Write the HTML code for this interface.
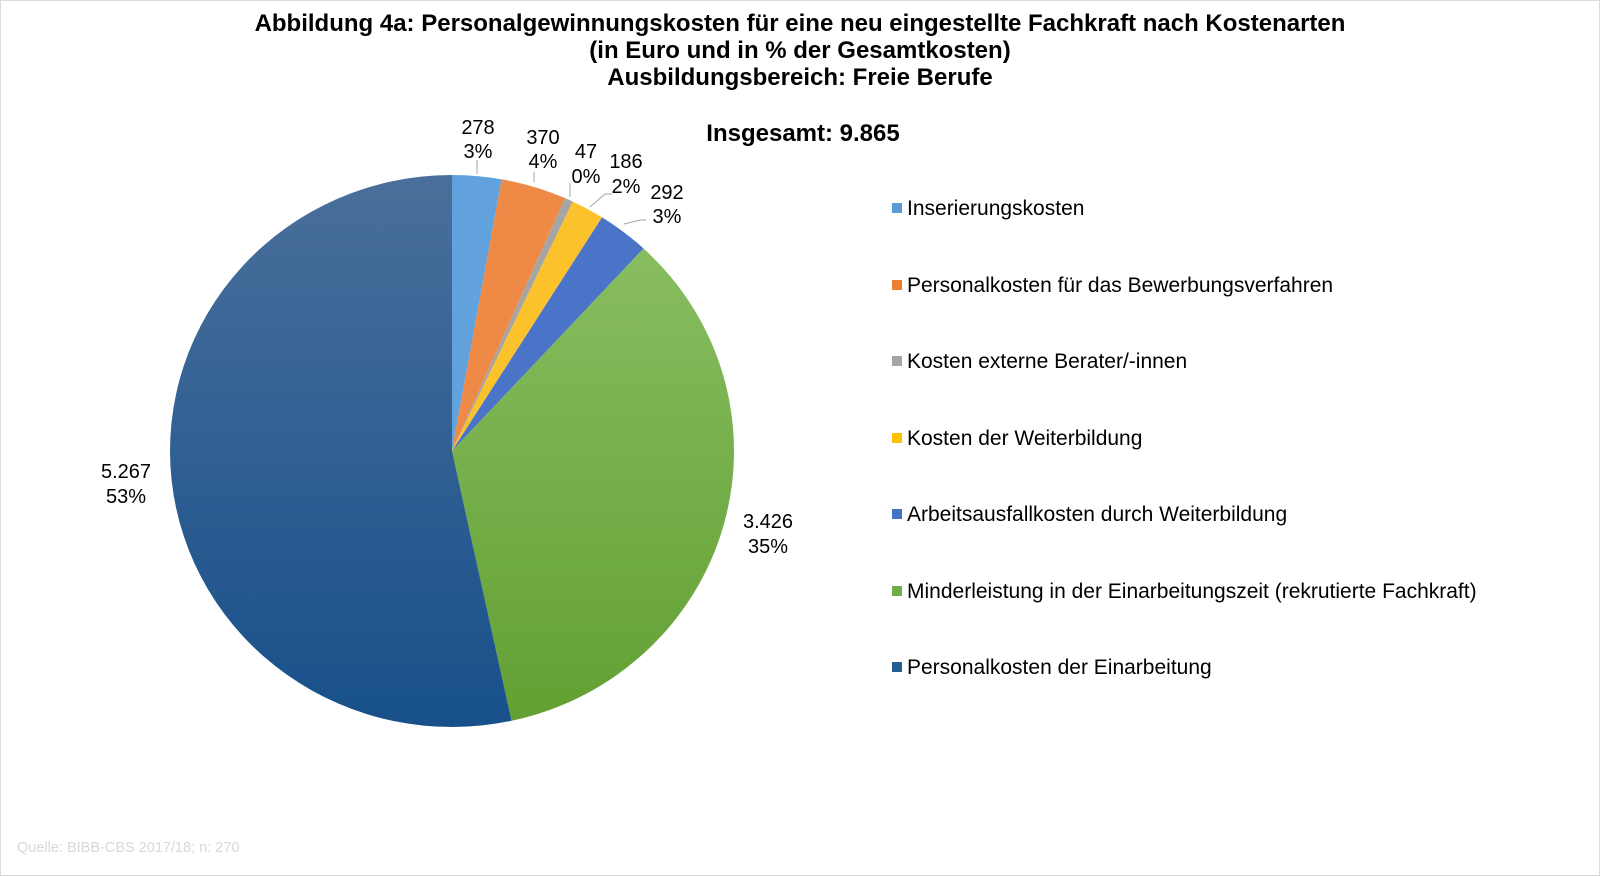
<!DOCTYPE html>
<html><head><meta charset="utf-8"><style>
html,body{margin:0;padding:0;background:#fff}
#c{position:relative;width:1600px;height:877px;overflow:hidden;font-family:"Liberation Sans",Arial,sans-serif}
#frame{position:absolute;left:0;top:0;width:1598px;height:874px;border:1px solid #d9dce3;box-sizing:content-box}
</style></head><body><div id="c"><div id="frame"></div>
<svg width="1600" height="877" style="position:absolute;left:0;top:0" font-family="Liberation Sans, Arial, sans-serif">
<defs>
<linearGradient id="gb" x1="0" y1="0" x2="0" y2="1"><stop offset="0" stop-color="#4a6f9b"/><stop offset="1" stop-color="#17508a"/></linearGradient>
<linearGradient id="gg" x1="0" y1="0" x2="0" y2="1"><stop offset="0" stop-color="#88bd60"/><stop offset="1" stop-color="#62a033"/></linearGradient>
</defs>
<g font-weight="bold" font-size="24" text-anchor="middle" fill="#000">
<text x="800" y="31">Abbildung 4a: Personalgewinnungskosten für eine neu eingestellte Fachkraft nach Kostenarten</text>
<text x="800" y="58">(in Euro und in % der Gesamtkosten)</text>
<text x="800" y="85">Ausbildungsbereich: Freie Berufe</text>
<text x="803" y="141">Insgesamt: 9.865</text>
</g>
<g id="pie"></g>
<g stroke="#a6a6a6" fill="none" stroke-width="1">
<line x1="477" y1="160" x2="477" y2="174"/>
<line x1="534" y1="172" x2="534" y2="182"/>
<line x1="570" y1="183" x2="570" y2="197"/>
<polyline points="590,207 605,194 612,194"/>
<polyline points="624,224 640,220 646,220"/>
</g>
<g font-size="20" text-anchor="middle" fill="#000">
<text x="478" y="134">278</text><text x="478" y="158">3%</text>
<text x="543" y="144">370</text><text x="543" y="168">4%</text>
<text x="586" y="158">47</text><text x="586" y="183">0%</text>
<text x="626" y="168">186</text><text x="626" y="193">2%</text>
<text x="667" y="199">292</text><text x="667" y="223">3%</text>
<text x="768" y="528">3.426</text><text x="768" y="553">35%</text>
<text x="126" y="478">5.267</text><text x="126" y="503">53%</text>
</g>
<g font-size="21" fill="#000" id="leg">
<rect x="892" y="203" width="10" height="10" fill="#5b9bd5"/><text x="907" y="215">Inserierungskosten</text>
<rect x="892" y="280" width="10" height="10" fill="#ed7d31"/><text x="907" y="292">Personalkosten für das Bewerbungsverfahren</text>
<rect x="892" y="356" width="10" height="10" fill="#a5a5a5"/><text x="907" y="368">Kosten externe Berater/-innen</text>
<rect x="892" y="433" width="10" height="10" fill="#ffc000"/><text x="907" y="445">Kosten der Weiterbildung</text>
<rect x="892" y="509" width="10" height="10" fill="#4472c4"/><text x="907" y="521">Arbeitsausfallkosten durch Weiterbildung</text>
<rect x="892" y="586" width="10" height="10" fill="#70ad47"/><text x="907" y="598">Minderleistung in der Einarbeitungszeit (rekrutierte Fachkraft)</text>
<rect x="892" y="662" width="10" height="10" fill="#255e91"/><text x="907" y="674">Personalkosten der Einarbeitung</text>
</g>
<text x="17" y="852" font-size="14.5" fill="#d8d8d8">Quelle: BIBB-CBS 2017/18; n: 270</text>
</svg>
<script>
(function(){
var v=[278,370,47,186,292,3426,5267],c=["#62a2dc","#ee8a45","#a5a5a5","#fcc22c","#4a74c8","url(#gg)","url(#gb)"];
var cx=452,cy=451,rx=282,ry=276,t=9866,a=0,g=document.getElementById("pie"),h="";
for(var i=0;i<v.length;i++){var a0=a/t*2*Math.PI;a+=v[i];var a1=a/t*2*Math.PI;
var x0=cx+rx*Math.sin(a0),y0=cy-ry*Math.cos(a0),x1=cx+rx*Math.sin(a1),y1=cy-ry*Math.cos(a1);
h+='<path d="M'+cx+','+cy+'L'+x0+','+y0+'A'+rx+','+ry+' 0 '+((a1-a0)>Math.PI?1:0)+' 1 '+x1+','+y1+'Z" fill="'+c[i]+'"/>';}
g.innerHTML=h;})();
</script>
</div></body></html>
